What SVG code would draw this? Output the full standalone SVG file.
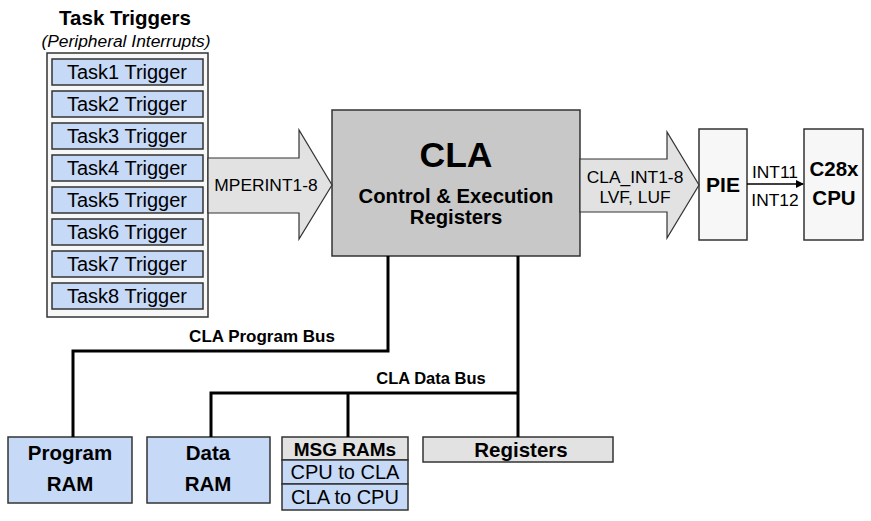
<svg xmlns="http://www.w3.org/2000/svg" width="871" height="521" viewBox="0 0 871 521">
<defs>
<style>
text{font-family:"Liberation Sans",Arial,sans-serif;fill:#000;text-anchor:middle}
.b{font-weight:bold}
.blue{fill:#c6d9f7;stroke:#333;stroke-width:1.5}
.gray{fill:#c8c8c8;stroke:#333;stroke-width:1.5}
.lgray{fill:#e2e2e2;stroke:#333;stroke-width:1.5}
.white{fill:#f7f7f7;stroke:#333;stroke-width:1.5}
.bus{fill:none;stroke:#000;stroke-width:3}
.task{font-size:20px}
.lbl{font-size:17.4px}
.busl{font-size:17px}
.big{font-size:20.5px}
</style>
<marker id="ah" markerWidth="8" markerHeight="8" refX="7" refY="4" orient="auto" markerUnits="userSpaceOnUse">
<path d="M0,0 L8,4 L0,8 z" fill="#000"/>
</marker>
</defs>
<rect width="871" height="521" fill="#fff"/>

<g id="task-triggers">
<text x="125" y="25" class="b" font-size="20.5">Task Triggers</text>
<text x="126" y="47" font-size="17.4" font-style="italic">(Peripheral Interrupts)</text>
<rect x="47" y="53" width="161" height="264" class="white"/>
<g id="task1"><rect x="52" y="59" width="151" height="26" class="blue"/><text x="127" y="79" class="task">Task1 Trigger</text></g>
<g id="task2"><rect x="52" y="91" width="151" height="26" class="blue"/><text x="127" y="111" class="task">Task2 Trigger</text></g>
<g id="task3"><rect x="52" y="123" width="151" height="26" class="blue"/><text x="127" y="143" class="task">Task3 Trigger</text></g>
<g id="task4"><rect x="52" y="155" width="151" height="26" class="blue"/><text x="127" y="175" class="task">Task4 Trigger</text></g>
<g id="task5"><rect x="52" y="187" width="151" height="26" class="blue"/><text x="127" y="207" class="task">Task5 Trigger</text></g>
<g id="task6"><rect x="52" y="219" width="151" height="26" class="blue"/><text x="127" y="239" class="task">Task6 Trigger</text></g>
<g id="task7"><rect x="52" y="251" width="151" height="26" class="blue"/><text x="127" y="271" class="task">Task7 Trigger</text></g>
<g id="task8"><rect x="52" y="283" width="151" height="26" class="blue"/><text x="127" y="303" class="task">Task8 Trigger</text></g>
</g>

<g id="cla">
<rect x="332" y="110" width="248" height="146" class="gray"/>
<text x="456" y="167" class="b" font-size="35.5">CLA</text>
<text x="456" y="203" class="b" font-size="20.3">Control &amp; Execution</text>
<text x="456" y="224" class="b" font-size="20.3">Registers</text>
</g>

<g id="pie">
<rect x="699" y="129" width="48" height="111" class="white"/>
<text x="723" y="192" class="b" font-size="21">PIE</text>
</g>

<g id="cpu">
<rect x="804" y="129" width="59" height="111" class="white"/>
<text x="834" y="176" class="b big">C28x</text>
<text x="834" y="205" class="b big">CPU</text>
</g>

<g id="program-ram">
<rect x="8" y="437" width="124" height="66" class="blue"/>
<text x="70" y="460" class="b big">Program</text>
<text x="70" y="491" class="b big">RAM</text>
</g>

<g id="data-ram">
<rect x="147" y="437" width="123" height="66" class="blue"/>
<text x="208" y="460" class="b big">Data</text>
<text x="208" y="491" class="b big">RAM</text>
</g>

<g id="msg-rams">
<rect x="282" y="437" width="126" height="23" class="lgray"/>
<rect x="282" y="460" width="126" height="24" class="blue"/>
<rect x="282" y="484" width="126" height="26" class="blue"/>
<text x="345" y="456" class="b" font-size="19">MSG RAMs</text>
<text x="345" y="479" font-size="20">CPU to CLA</text>
<text x="345" y="504" font-size="20">CLA to CPU</text>
</g>

<g id="registers">
<rect x="423" y="437" width="190" height="25" class="lgray"/>
<text x="521" y="457" class="b big">Registers</text>
</g>

<g id="connectors">
<g id="mperint">
<path d="M208,158 L299,158 L299,130 L332,185 L299,239 L299,213 L208,213 z" fill="#e2e2e2" stroke="#333" stroke-width="1.2"/>
<text x="266" y="191" class="lbl">MPERINT1-8</text>
</g>
<g id="cla-int">
<path d="M580,159 L667,159 L667,132 L699,185 L667,238 L667,212 L580,212 z" fill="#e2e2e2" stroke="#333" stroke-width="1.2"/>
<text x="635" y="183" class="lbl">CLA_INT1-8</text>
<text x="635" y="203" class="lbl">LVF, LUF</text>
</g>
<g id="int-line">
<line x1="747" y1="184" x2="803" y2="184" stroke="#000" stroke-width="1.5" marker-end="url(#ah)"/>
<text x="775" y="178" class="lbl">INT11</text>
<text x="775" y="206" class="lbl">INT12</text>
</g>
<g id="program-bus">
<polyline points="388,256 388,351 73,351 73,437" class="bus"/>
<text x="262" y="342" class="b busl">CLA Program Bus</text>
</g>
<g id="data-bus">
<polyline points="518,256 518,437" class="bus"/>
<polyline points="518,393 211,393 211,437" class="bus"/>
<line x1="348" y1="393" x2="348" y2="437" class="bus"/>
<text x="431" y="384" class="b" font-size="16.5">CLA Data Bus</text>
</g>
</g>
</svg>
